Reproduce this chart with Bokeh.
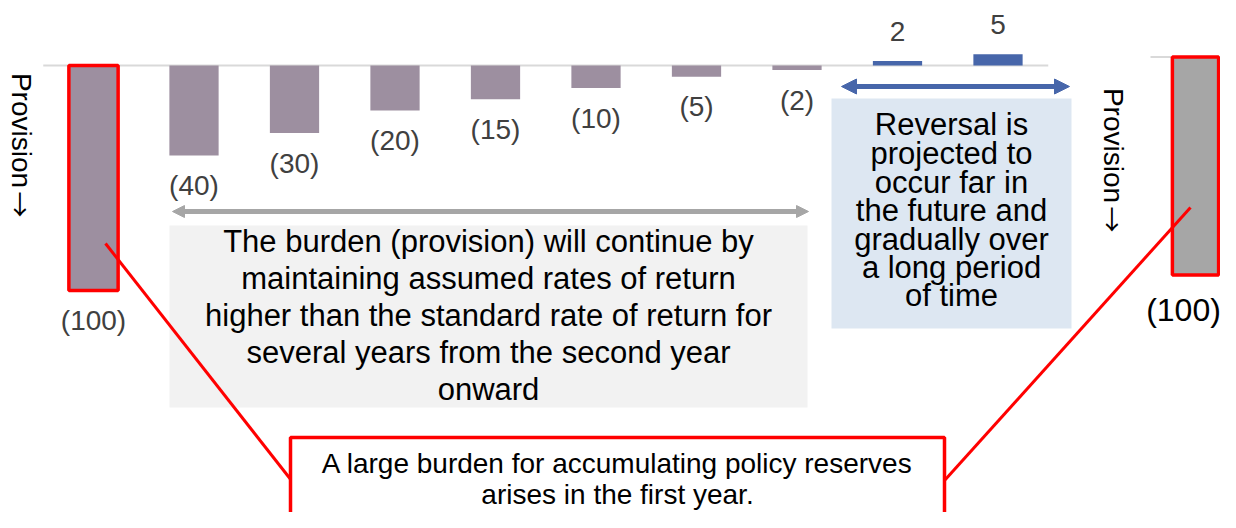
import numpy as np
from bokeh.plotting import figure
from bokeh.models import Range1d, Arrow, NormalHead, ColumnDataSource
from bokeh.core.properties import value
from bokeh.embed import file_html
from bokeh.resources import INLINE

# ---------------- data ----------------
years = ["Year 1", "Year 2", "Year 3", "Year 4", "Year 5",
         "Year 6", "Year 7", "Year 8", "Year 9", "Year 10"]
values = [-100, -40, -30, -20, -15, -10, -5, -2, 2, 5]
labels = ["(100)", "(40)", "(30)", "(20)", "(15)", "(10)", "(5)", "(2)", "2", "5"]
total_value = -100
total_label = "(100)"
side_word = "Provision"
side_arrow = "\u2192"
burden_text = ["The burden (provision) will continue by",
               "maintaining assumed rates of return",
               "higher than the standard rate of return for",
               "several years from the second year",
               "onward"]
reversal_text = ["Reversal is", "projected to", "occur far in", "the future and",
                 "gradually over", "a long period", "of time"]
callout_text = ["A large burden for accumulating policy reserves",
                "arises in the first year."]

# ---------------- layout (picture pixels) ----------------
W, H = 1220, 512
X0, DX = 93.0, 100.5      # first bar centre, bar spacing
Y0, KY = 65.0, 2.25       # baseline, px per unit (main bars)
Y0R, KYR = 56.5, 2.18     # baseline, px per unit (right-hand total bar)

def fx(px):
    return (px - X0) / DX

def fy(py):
    return (Y0 - py) / KY

FONT = value("Liberation Sans")
PURPLE = "#9d8fa0"
BLUE = "#4766aa"
RED = "#ff0000"

p = figure(width=W, height=H,
           x_range=Range1d(fx(0), fx(W)),
           y_range=Range1d(fy(H), fy(0)),
           output_backend="svg", toolbar_location=None,
           x_axis_location=None, y_axis_location=None,
           min_border=0, background_fill_color="white",
           border_fill_color="white")
p.grid.visible = False
p.outline_line_color = None
p.extra_y_ranges = {"total": Range1d((Y0R - H) / KYR, Y0R / KYR)}

# ---------------- boxes ----------------
p.quad(left=[fx(169)], right=[fx(807)], top=[fy(225)], bottom=[fy(407)],
       fill_color="#f2f2f2", line_color=None)
p.quad(left=[fx(831)], right=[fx(1071)], top=[fy(98)], bottom=[fy(328)],
       fill_color="#dde7f2", line_color=None)

# ---------------- baselines ----------------
n = len(values)
p.segment(x0=[-0.5], y0=[0], x1=[n - 0.5], y1=[0], line_color="#d9d9d9", line_width=2)

# ---------------- bars ----------------
idx = list(range(n))
fills = [PURPLE if v < 0 else BLUE for v in values]
line_alpha = [1.0] + [0.0] * (n - 1)
offs = [30 if v < 0 else -30 for v in values]
src = ColumnDataSource(dict(x=idx, top=values, fill=fills, la=line_alpha,
                            label=labels, off=offs))
p.vbar(x="x", top="top", bottom=0, width=0.49, source=src,
       fill_color="fill", line_color=RED, line_alpha="la", line_width=3.5)
p.text(x="x", y="top", text="label", y_offset="off", source=src,
       text_font=FONT, text_font_size="28px", text_color="#404040",
       text_align="center", text_baseline="middle")

# right-hand total bar
total_x = fx(1195)
p.segment(x0=[fx(1150)], y0=[0], x1=[fx(1219)], y1=[0], y_range_name="total",
          line_color="#d9d9d9", line_width=2)
p.vbar(x=[total_x], top=[total_value], bottom=0, width=0.46, y_range_name="total",
       fill_color="#a6a6a6", line_color=RED, line_width=3.5)
p.text(x=[fx(1183)], y=[total_value], text=[total_label], y_offset=35,
       y_range_name="total", text_font=FONT, text_font_size="32px",
       text_color="black", text_align="center", text_baseline="middle")

# ---------------- side labels (rotated) ----------------
p.text(x=[fx(21), fx(1113)], y=[fy(130), fy(145)], text=[side_word, side_word],
       angle=-np.pi / 2, text_font=FONT, text_font_size="28px", text_color="black",
       text_align="center", text_baseline="middle")
p.text(x=[fx(21), fx(1113)], y=[fy(204), fy(219)], text=[side_arrow, side_arrow],
       angle=-np.pi / 2, text_font=value("Noto Sans CJK JP"), text_font_size="26px",
       text_color="black", text_align="center", text_baseline="middle")

# ---------------- callout lines + box ----------------
p.segment(x0=[fx(105), fx(1190)], y0=[fy(243), fy(207)],
          x1=[fx(291), fx(944)], y1=[fy(480), fy(480)],
          line_color=RED, line_width=3)
p.quad(left=[fx(290)], right=[fx(944)], top=[fy(437)], bottom=[fy(560)],
       fill_color="white", line_color=RED, line_width=3.5)

# ---------------- texts ----------------
p.text(x=[fx(488)] * len(burden_text), y=[fy(v) for v in (241, 278, 315, 352, 389)],
       text=burden_text, text_font=FONT, text_font_size="31px", text_color="black",
       text_align="center", text_baseline="middle")
p.text(x=[fx(951)] * len(reversal_text),
       y=[fy(v) for v in (124, 153, 182, 210, 239, 267, 295)],
       text=reversal_text, text_font=FONT, text_font_size="31px", text_color="black",
       text_align="center", text_baseline="middle")
p.text(x=[fx(617)] * len(callout_text), y=[fy(463), fy(494)],
       text=callout_text, text_font=FONT, text_font_size="28px", text_color="black",
       text_align="center", text_baseline="middle")

# ---------------- arrows ----------------
p.add_layout(Arrow(x_start=fx(172), y_start=fy(211), x_end=fx(808), y_end=fy(211),
                   line_color="#a6a6a6", line_width=5,
                   start=NormalHead(size=12, fill_color="#a6a6a6", line_color="#a6a6a6"),
                   end=NormalHead(size=12, fill_color="#a6a6a6", line_color="#a6a6a6")))
p.add_layout(Arrow(x_start=fx(841), y_start=fy(86), x_end=fx(1069), y_end=fy(86),
                   line_color=BLUE, line_width=5,
                   start=NormalHead(size=15, fill_color=BLUE, line_color=BLUE),
                   end=NormalHead(size=15, fill_color=BLUE, line_color=BLUE)))

open("out.html", "w").write(file_html(p, INLINE))
